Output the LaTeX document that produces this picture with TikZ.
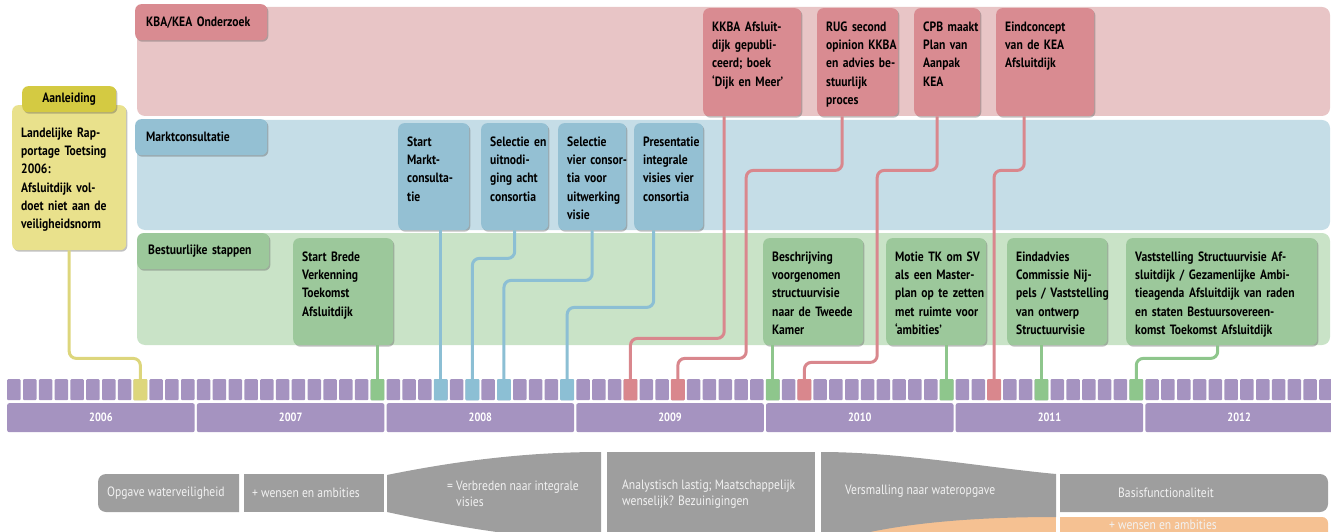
\documentclass[tikz,border=0pt]{standalone}
\usepackage{fontspec}
\setmainfont{PT Sans}[FakeStretch=0.86]
\definecolor{kbaband}{RGB}{232,197,198}
\definecolor{kbabox}{RGB}{217,139,145}
\definecolor{kbaline}{RGB}{217,135,141}
\definecolor{mktband}{RGB}{197,221,231}
\definecolor{mktbox}{RGB}{148,192,211}
\definecolor{mktline}{RGB}{140,191,212}
\definecolor{bstband}{RGB}{201,227,199}
\definecolor{bstbox}{RGB}{156,200,155}
\definecolor{bstline}{RGB}{142,198,140}
\definecolor{anltab}{RGB}{212,202,66}
\definecolor{anlbody}{RGB}{233,225,140}
\definecolor{anlline}{RGB}{221,214,124}
\definecolor{tlpurple}{RGB}{165,147,192}
\definecolor{fasegrey}{RGB}{158,158,158}
\definecolor{faseorange}{RGB}{245,193,146}
\usetikzlibrary{shadows,calc}

\begin{document}
\begin{tikzpicture}[x=1pt,y=-1pt,
  shd/.style={drop shadow={shadow xshift=1.2pt,shadow yshift=-1.5pt,opacity=0.35,fill=black!70}},
  tab/.style={shd,rounded corners=6pt,anchor=north west,inner xsep=11pt,inner ysep=0pt,
    text width=110pt,minimum height=36pt,align=left,font=\bfseries\fontsize{13.5}{15}\selectfont},
  evbox/.style={shd,rounded corners=6pt,anchor=north west,inner xsep=9pt,inner ysep=5pt,
    align=left,text height=18pt,font=\bfseries\fontsize{13.5}{18.3}\selectfont,
    execute at begin node={\hyphenpenalty=10000\exhyphenpenalty=10000}},
  kbaev/.style={evbox,fill=kbabox,text depth=80pt},
  mktev/.style={evbox,fill=mktbox,text depth=79pt},
  bstev/.style={evbox,fill=bstbox,text depth=79pt},
  lnk/.style={draw=#1,line width=3pt,rounded corners=7pt},
  yearbox/.style={anchor=north west,fill=tlpurple,rounded corners=2pt,inner sep=0pt,
    minimum width=187.5pt,minimum height=29pt,text=white,font=\bfseries\fontsize{12}{14}\selectfont},
  monthcell/.style={anchor=north west,fill=tlpurple,rounded corners=1pt,inner sep=0pt,
    minimum width=13.5pt,minimum height=21pt},
  fasetxt/.style={anchor=west,text=white!95!black,align=left,inner sep=0pt,
    font=\fontsize{13.5}{15.5}\selectfont}
]
  \useasboundingbox (0,0) rectangle (1331,532);
  \clip (0,0) rectangle (1331,532);

  % Bands
  \fill[kbaband,rounded corners=8pt] (137,7) rectangle (1330,116);
  \fill[mktband,rounded corners=8pt] (137,120) rectangle (1330,230);
  \fill[bstband,rounded corners=8pt] (137,233) rectangle (1330,345);
  \node[tab,fill=kbabox] (kbatab) at (135,4) {KBA/KEA Onderzoek};
  \node[tab,fill=mktbox] (mkttab) at (135,119) {Marktconsultatie};
  \node[tab,fill=bstbox] (bsttab) at (137,233) {Bestuurlijke stappen};

  % Aanleiding
  \node[evbox,fill=anlbody,text width=96pt,text height=27pt,text depth=108pt] (anl) at (12,105)
    {Landelijke~Rap-\\portage~Toetsing\\2006:\\Afsluitdijk~vol-\\doet~niet~aan~de\\veiligheidsnorm};
  \node[shd,fill=anltab,rounded corners=6pt,anchor=north west,minimum width=94pt,minimum height=26pt,
    inner sep=0pt,font=\bfseries\fontsize{13.5}{15}\selectfont] (anltab) at (22,86) {Aanleiding};

  % KBA/KEA onderzoek
  \node[kbaev,text width=80pt] (kkba) at (703,8) {KKBA~Afsluit-\\dijk~gepubli-\\ceerd;~boek\\`Dijk~en~Meer'};
  \node[kbaev,text width=63pt] (rug) at (817,8) {RUG~second\\opinion~KKBA\\en~advies~be-\\stuurlijk\\proces};
  \node[kbaev,text width=48pt] (cpb) at (914,8) {CPB~maakt\\Plan~van\\Aanpak\\KEA};
  \node[kbaev,text width=80pt] (eind) at (996,8) {Eindconcept\\van~de~KEA\\Afsluitdijk};

  % Marktconsultatie
  \node[mktev,text width=53pt] (smc) at (398,123) {Start\\Markt-\\consulta-\\tie};
  \node[mktev,text width=49pt] (sac) at (481,123) {Selectie~en\\uitnodi-\\ging~acht\\consortia};
  \node[mktev,text width=50pt] (svc) at (558,123) {Selectie\\vier~consor-\\tia~voor\\uitwerking\\visie};
  \node[mktev,text width=51pt] (piv) at (634,123) {Presentatie\\integrale\\visies~vier\\consortia};

  % Bestuurlijke stappen
  \node[bstev,text width=82pt] (sbv) at (293,238) {Start~Brede\\Verkenning\\Toekomst\\Afsluitdijk};
  \node[bstev,text width=82pt] (bvs) at (763,238) {Beschrijving\\voorgenomen\\structuurvisie\\naar~de~Tweede\\Kamer};
  \node[bstev,text width=82pt] (mtk) at (886,238) {Motie~TK~om~SV\\als~een~Master-\\plan~op~te~zetten\\met~ruimte~voor\\`ambities'};
  \node[bstev,text width=82pt] (ead) at (1007,238) {Eindadvies\\Commissie~Nij-\\pels~/~Vaststelling\\van~ontwerp\\Structuurvisie};
  \node[bstev,text width=173pt] (vsv) at (1126,238) {Vaststelling~Structuurvisie~Af-\\sluitdijk~/~Gezamenlijke~Ambi-\\tieagenda~Afsluitdijk~van~raden\\en~staten~Bestuursovereen-\\komst~Toekomst~Afsluitdijk};

  % Timeline
  \foreach \yr [count=\i from 0] in {2006,...,2012}{
    \node[yearbox] (y\yr) at ({7+189.7*\i},403) {\yr};
    \foreach \mo in {0,...,11}
      \node[monthcell] (m-\yr-\mo) at ({7+189.7*\i+15.8*\mo},379) {};
  }

  % Connectors
  \draw[lnk=anlline] (anl.south) -- ++(0,108) -| (m-2006-8.north);
  \draw[lnk=bstline] (m-2007-11.north) -- (m-2007-11.north |- sbv.south);
  \draw[lnk=mktline] (m-2008-3.north) -- (m-2008-3.north |- smc.south);
  \draw[lnk=mktline] (sac.south) -- ++(0,28) -| (m-2008-5.north);
  \draw[lnk=mktline] (svc.south) -- ++(0,50) -| (m-2008-7.north);
  \draw[lnk=mktline] ([xshift=-15pt]piv.south) -- ++(0,77) -| (m-2008-11.north);
  \draw[lnk=kbaline] ([xshift=-28pt]kkba.south) -- ++(0,222) -| (m-2009-3.north);
  \draw[lnk=kbaline] ([xshift=-15.5pt]rug.south) -- ++(0,54) -- ++(-96,0) -- ++(0,188) -| (m-2009-6.north);
  \draw[lnk=kbaline] ([xshift=-10pt]cpb.south) -- ++(0,54) -- ++(-60,0) -- ++(0,192) -| (m-2010-2.north);
  \draw[lnk=kbaline] ([xshift=-21pt]eind.south) -- ++(0,54) -| (m-2011-2.north);
  \draw[lnk=bstline] (m-2010-0.north) -- (m-2010-0.north |- bvs.south);
  \draw[lnk=bstline] (m-2010-11.north) -- (m-2010-11.north |- mtk.south);
  \draw[lnk=bstline] (m-2011-5.north) -- (m-2011-5.north |- ead.south);
  \draw[lnk=bstline] ([xshift=-4pt]vsv.south) -- ++(0,13) -| (m-2011-11.north);

  % Marked months
  \foreach \yr/\mo/\col in {2006/8/anlline,2007/11/bstline,2008/3/mktline,2008/5/mktline,
      2008/7/mktline,2008/11/mktline,2009/3/kbaline,2009/6/kbaline,2010/0/bstline,
      2010/2/kbaline,2010/11/bstline,2011/2/kbaline,2011/5/bstline,2011/11/bstline}
    \fill[\col,rounded corners=1pt] (m-\yr-\mo.north west) rectangle (m-\yr-\mo.south east);

  % Phases
  \fill[fasegrey] (239,474) [rounded corners=8pt] -- (98,474) -- (98,512) [sharp corners] -- (239,512) -- cycle;
  \fill[fasegrey] (244,474) rectangle (384,512);
  \fill[fasegrey] (387,475) .. controls (470,458) and (540,452) .. (601,452) -- (601,540)
    .. controls (540,540) and (470,530) .. (387,512) -- cycle;
  \fill[fasegrey] (607,452) rectangle (815,540);
  \fill[faseorange] (821,517) rectangle (1056,540);
  \fill[fasegrey] (821,452) .. controls (900,452) and (990,468) .. (1056,474) -- (1056,517)
    .. controls (960,517) and (880,525) .. (821,545) -- cycle;
  \fill[fasegrey] (1060,474) [rounded corners=8pt] -- (1328,474) -- (1328,512) [sharp corners] -- (1060,512) -- cycle;
  \fill[faseorange] (1060,517) [rounded corners=6pt] -- (1328,517) -- (1328,545) [sharp corners] -- (1060,545) -- cycle;
  \node[fasetxt] (opgave) at (107,493) {Opgave waterveiligheid};
  \node[fasetxt] (wensen) at (252,493) {+ wensen en ambities};
  \node[fasetxt] (verbreden) at (447,494) {= Verbreden naar integrale\\\phantom{= }visies};
  \node[fasetxt] (analyse) at (622,494) {Analystisch lastig; Maatschappelijk\\wenselijk? Bezuinigingen};
  \node[fasetxt] (versmal) at (845,491) {Versmalling naar wateropgave};
  \node[fasetxt] (basis) at (1118,493) {Basisfunctionaliteit};
  \node[fasetxt,anchor=center] (extra) at (1163,525) {+ wensen en ambities};
\end{tikzpicture}
\end{document}
